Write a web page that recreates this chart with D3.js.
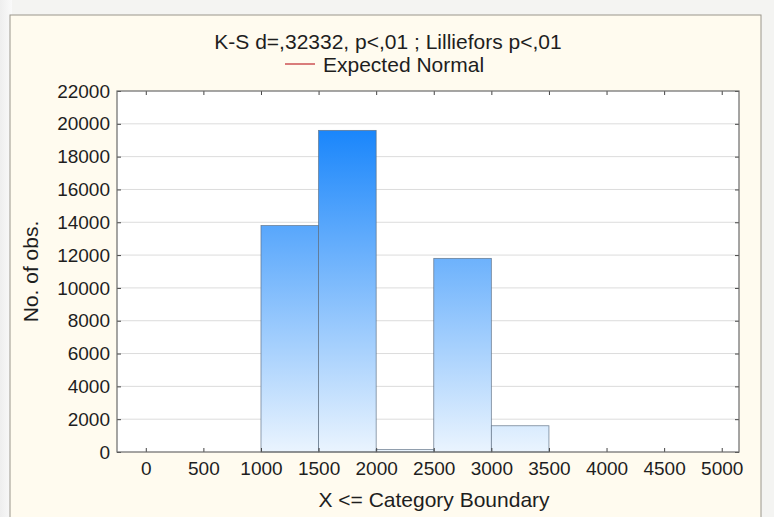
<!DOCTYPE html>
<html>
<head>
<meta charset="utf-8">
<script src="https://cdn.jsdelivr.net/npm/d3@7"></script>
<style>
  body { margin: 0; background: #f4f4f2; }
  svg { display: block; font-family: "Liberation Sans", Arial, sans-serif; }
</style>
</head>
<body>
<svg id="chart" width="774" height="517"></svg>
<script>
const binStart = [0, 500, 1000, 1500, 2000, 2500, 3000, 3500, 4000, 4500]
const binEnd   = [500, 1000, 1500, 2000, 2500, 3000, 3500, 4000, 4500, 5000]
const counts   = [0, 0, 13800, 19600, 150, 11800, 1600, 0, 0, 0]
const xTicks = [0, 500, 1000, 1500, 2000, 2500, 3000, 3500, 4000, 4500, 5000]
const yTicks = [0, 2000, 4000, 6000, 8000, 10000, 12000, 14000, 16000, 18000, 20000, 22000]

const svg = d3.select('#chart')

// fondo: franja gris a la izquierda y panel crema
const bg = svg.append('defs').append('linearGradient').attr('id', 'strip')
bg.append('stop').attr('offset', '0%').attr('stop-color', '#eeeeee')
bg.append('stop').attr('offset', '100%').attr('stop-color', '#fafafa')
svg.append('rect').attr('width', 12).attr('height', 517).attr('fill', 'url(#strip)')
svg.append('rect').attr('x', 10).attr('y', 15).attr('width', 751).attr('height', 510)
  .attr('fill', '#fffbef').attr('stroke', '#9a968c').attr('stroke-width', 1)

const m = { left: 117, right: 739, top: 91, bottom: 452 }

const x = d3.scaleLinear().domain([-250, 5150]).range([m.left, m.right])
const y = d3.scaleLinear().domain([0, 22000]).range([m.bottom, m.top])

// area del grafico
svg.append('rect').attr('x', m.left).attr('y', m.top)
  .attr('width', m.right - m.left).attr('height', m.bottom - m.top).attr('fill', '#ffffff')

// grilla horizontal
svg.append('g').selectAll('line')
  .data(yTicks.filter(d => d > 0 && d < 22000))
  .join('line')
  .attr('x1', m.left).attr('x2', m.right)
  .attr('y1', d => y(d)).attr('y2', d => y(d))
  .attr('stroke', '#dcdcdc').attr('stroke-width', 1)

// degradado azul de las barras
const grad = svg.select('defs').append('linearGradient')
  .attr('id', 'barFill').attr('gradientUnits', 'userSpaceOnUse')
  .attr('x1', 0).attr('x2', 0).attr('y1', y(19600)).attr('y2', y(0))
grad.append('stop').attr('offset', '0%').attr('stop-color', '#1a86fb')
grad.append('stop').attr('offset', '100%').attr('stop-color', '#eaf4fe')

const bins = counts.map((c, i) => ({ x0: binStart[i], x1: binEnd[i], n: c }))

svg.append('g').selectAll('rect')
  .data(bins.filter(d => d.n > 0))
  .join('rect')
  .attr('x', d => x(d.x0))
  .attr('width', d => x(d.x1) - x(d.x0))
  .attr('y', d => y(d.n))
  .attr('height', d => y(0) - y(d.n))
  .attr('fill', 'url(#barFill)')
  .attr('stroke', '#5a6b80').attr('stroke-width', 0.8).attr('stroke-opacity', 0.8)

// ejes (ticks hacia adentro)
const tickLen = 4
const fmt = d3.format('d')
svg.append('g').attr('transform', `translate(0,${m.bottom})`)
  .call(d3.axisBottom(x).tickValues(xTicks).tickFormat(fmt).tickSize(-tickLen).tickPadding(10))
  .call(g => g.select('.domain').remove())
svg.append('g').attr('transform', `translate(0,${m.top})`)
  .call(d3.axisTop(x).tickValues(xTicks).tickSize(-tickLen).tickFormat(''))
  .call(g => g.select('.domain').remove())
svg.append('g').attr('transform', `translate(${m.left},0)`)
  .call(d3.axisLeft(y).tickValues(yTicks).tickFormat(fmt).tickSize(-tickLen).tickPadding(7))
  .call(g => g.select('.domain').remove())
svg.append('g').attr('transform', `translate(${m.right},0)`)
  .call(d3.axisRight(y).tickValues(yTicks).tickSize(-tickLen).tickFormat(''))
  .call(g => g.select('.domain').remove())

svg.selectAll('.tick line').attr('stroke', '#444')
svg.selectAll('.tick text').attr('font-size', 19).attr('fill', '#1e1e1e')
  .attr('font-family', '"Liberation Sans", Arial, sans-serif')

// marco
svg.append('rect').attr('x', m.left).attr('y', m.top)
  .attr('width', m.right - m.left).attr('height', m.bottom - m.top)
  .attr('fill', 'none').attr('stroke', '#6a6a6a').attr('stroke-width', 1.2)

// titulos
svg.append('text').attr('x', 388).attr('y', 49).attr('text-anchor', 'middle')
  .attr('font-size', 21).attr('fill', '#1e1e1e')
  .text('K-S d=,32332, p<,01 ; Lilliefors p<,01')

svg.append('line').attr('x1', 285).attr('x2', 315).attr('y1', 64).attr('y2', 64)
  .attr('stroke', '#c0282d').attr('stroke-width', 1.2)
svg.append('text').attr('x', 323).attr('y', 72)
  .attr('font-size', 21).attr('fill', '#1e1e1e')
  .text('Expected Normal')

svg.append('text').attr('x', 434).attr('y', 507).attr('text-anchor', 'middle')
  .attr('font-size', 21).attr('fill', '#1e1e1e')
  .text('X <= Category Boundary')

svg.append('text')
  .attr('transform', `translate(38,${(m.top + m.bottom) / 2}) rotate(-90)`)
  .attr('text-anchor', 'middle')
  .attr('font-size', 21).attr('fill', '#1e1e1e')
  .text('No. of obs.')
</script>
</body>
</html>
